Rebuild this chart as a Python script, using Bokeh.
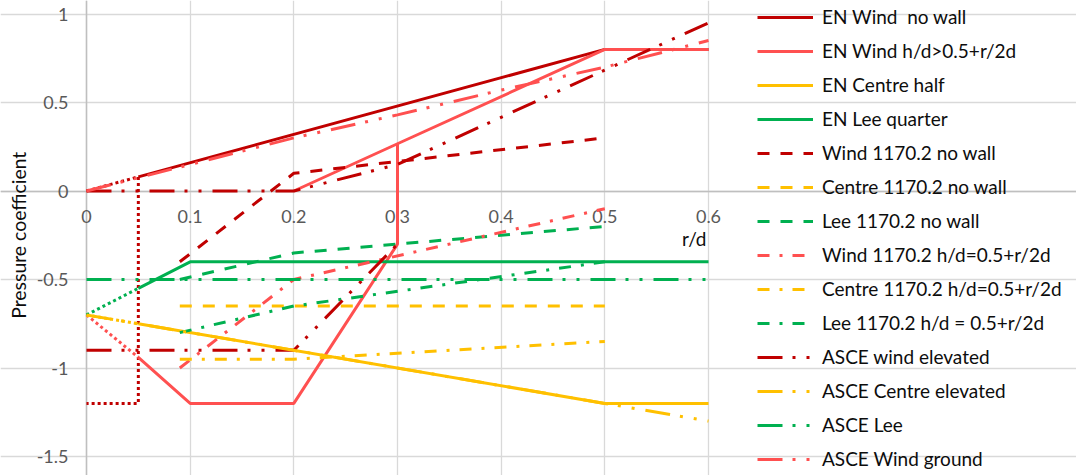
import math
from bokeh.plotting import figure
from bokeh.models import Legend, LegendItem, FixedTicker, Grid
from bokeh.core.properties import value
from bokeh.embed import file_html
from bokeh.resources import INLINE

nan = math.nan

# Axis ticks
x_ticks = [0, 0.1, 0.2, 0.3, 0.4, 0.5, 0.6]
x_tick_labels = ["0", "0.1", "0.2", "0.3", "0.4", "0.5", "0.6"]
y_ticks = [-1.5, -1, -0.5, 0, 0.5, 1]
y_tick_labels = ["-1.5", "-1", "-0.5", "0", "0.5", "1"]

# EN 1991 curves (r/d >= 0.05)
en_wind_x = [0.05, 0.5, 0.6]
en_wind_y = [0.08, 0.8, 0.8]
en_wind_hd_x = [0.05, 0.1, 0.2, 0.3, 0.3, 0.5, 0.6, nan, 0.2, 0.3]
en_wind_hd_y = [-0.94, -1.2, -1.2, -0.3, 0.267, 0.8, 0.8, nan, 0.0, 0.267]
en_centre_x = [0.05, 0.5, 0.6]
en_centre_y = [-0.75, -1.2, -1.2]
en_lee_x = [0.05, 0.1, 0.6]
en_lee_y = [-0.55, -0.4, -0.4]

# EN lead-in below r/d = 0.05
lead_wind_x = [0, 0.05, 0.05, 0]
lead_wind_y = [0, 0.08, -1.2, -1.2]
lead_wind_hd_x = [0, 0.05]
lead_wind_hd_y = [-0.7, -0.94]
lead_centre_x = [0, 0.05]
lead_centre_y = [-0.7, -0.75]
lead_lee_x = [0, 0.05]
lead_lee_y = [-0.7, -0.55]

# AS/NZS 1170.2, no wall
wind_1170_x = [0.09, 0.2, 0.5]
wind_1170_y = [-0.4, 0.1, 0.3]
centre_1170_x = [0.09, 0.5]
centre_1170_y = [-0.65, -0.65]
lee_1170_x = [0.09, 0.2, 0.3, 0.5]
lee_1170_y = [-0.5, -0.35, -0.3, -0.2]

# AS/NZS 1170.2, h/d = 0.5 + r/2d
wind_1170_hd_x = [0.09, 0.2, 0.5]
wind_1170_hd_y = [-1.0, -0.5, -0.1]
centre_1170_hd_x = [0.09, 0.2, 0.5]
centre_1170_hd_y = [-0.95, -0.95, -0.85]
lee_1170_hd_x = [0.09, 0.2, 0.5]
lee_1170_hd_y = [-0.8, -0.65, -0.4]

# ASCE 7 domes
asce_wind_elev_x = [0, 0.2, 0.3, nan, 0, 0.2, 0.3, 0.6]
asce_wind_elev_y = [-0.9, -0.9, -0.3, nan, 0, 0, 0.15, 0.95]
asce_centre_elev_x = [0, 0.5, 0.6]
asce_centre_elev_y = [-0.7, -1.2, -1.3]
asce_lee_x = [0, 0.6]
asce_lee_y = [-0.5, -0.5]
asce_wind_ground_x = [0, 0.1, 0.2, 0.3, 0.4, 0.5, 0.6]
asce_wind_ground_y = [0, 0.15, 0.3, 0.43, 0.57, 0.7, 0.85]

DARK_RED = "#C00000"
RED = "#FF5050"
YELLOW = "#FFC000"
GREEN = "#00B050"

SOLID = "solid"
DASH = "12 11"
DASH_DOT = "12 10 3 10"
LONG_DASH_DOT_DOT = "25 10 3 11 3 11"
DOT = "3 3"

FONT = "Lato"
W = 3

# page geometry (pixels) of the plotting area inside the canvas
WIDTH, HEIGHT = 1076, 475
AREA_LEFT, AREA_RIGHT = 86, 708
AREA_TOP, AREA_BOTTOM = 13.5, 456

x_lo, x_hi = x_ticks[0], x_ticks[-1]
y_lo, y_hi = y_ticks[0], y_ticks[-1]
sx = (AREA_RIGHT - AREA_LEFT) / (x_hi - x_lo)
sy = (AREA_BOTTOM - AREA_TOP) / (y_hi - y_lo)
x_range = (x_lo - AREA_LEFT / sx, x_hi + (WIDTH - AREA_RIGHT) / sx)
y_range = (y_lo - (HEIGHT - AREA_BOTTOM) / sy, y_hi + AREA_TOP / sy)

p = figure(width=WIDTH, height=HEIGHT, x_range=x_range, y_range=y_range,
           output_backend="svg", toolbar_location=None, title=None,
           x_axis_location=None, y_axis_location=None, min_border=0,
           outline_line_color=None)
p.background_fill_color = "white"
p.border_fill_color = "white"
for g in p.grid:
    g.visible = False

# gridlines confined to the plotting area
p.add_layout(Grid(dimension=0, ticker=FixedTicker(ticks=x_ticks), bounds=(y_lo, y_hi),
                  grid_line_color="#D9D9D9", grid_line_width=1.3))
p.add_layout(Grid(dimension=1, ticker=FixedTicker(ticks=y_ticks), bounds=(x_lo, x_hi),
                  grid_line_color="#D9D9D9", grid_line_width=1.3))
# axis lines through the origin
p.add_layout(Grid(dimension=0, ticker=FixedTicker(ticks=[0]), bounds=(y_lo, y_hi),
                  grid_line_color="#BFBFBF", grid_line_width=1.5))
p.add_layout(Grid(dimension=1, ticker=FixedTicker(ticks=[0]), bounds=(x_lo, x_hi),
                  grid_line_color="#BFBFBF", grid_line_width=1.5))

# tick labels and axis titles
p.text(x=x_ticks, y=[0] * len(x_ticks), text=x_tick_labels,
       text_align="center", text_baseline="middle", y_offset=25,
       text_font=value(FONT), text_font_size="18px", text_color="#595959")
p.text(x=[x_lo] * len(y_ticks), y=y_ticks, text=y_tick_labels,
       text_align="right", text_baseline="middle", x_offset=-18,
       text_font=value(FONT), text_font_size="18px", text_color="#595959")
p.text(x=[x_hi], y=[0], text=["r/d"], text_align="right",
       text_baseline="middle", y_offset=47, x_offset=-2,
       text_font=value(FONT), text_font_size="19px", text_color="#0d0d0d")
p.text(x=[x_lo], y=[(y_lo + y_hi) / 2], text=["Pressure coefficient"],
       angle=math.pi / 2, text_align="center", text_baseline="middle",
       x_offset=-68, text_font=value(FONT), text_font_size="19.4px",
       text_color="#0d0d0d")


def draw(xs, ys, color, dash):
    return p.line(xs, ys, line_color=color, line_width=W, line_dash=dash)


series = [
    ("EN Wind  no wall", [(en_wind_x, en_wind_y, DARK_RED, SOLID),
                          (lead_wind_x, lead_wind_y, DARK_RED, DOT)]),
    ("EN Wind h/d>0.5+r/2d", [(en_wind_hd_x, en_wind_hd_y, RED, SOLID),
                              (lead_wind_hd_x, lead_wind_hd_y, RED, DOT)]),
    ("EN Centre half", [(en_centre_x, en_centre_y, YELLOW, SOLID),
                        (lead_centre_x, lead_centre_y, YELLOW, DOT)]),
    ("EN Lee quarter", [(en_lee_x, en_lee_y, GREEN, SOLID),
                        (lead_lee_x, lead_lee_y, GREEN, DOT)]),
    ("Wind 1170.2 no wall", [(wind_1170_x, wind_1170_y, DARK_RED, DASH)]),
    ("Centre 1170.2 no wall", [(centre_1170_x, centre_1170_y, YELLOW, DASH)]),
    ("Lee 1170.2 no wall", [(lee_1170_x, lee_1170_y, GREEN, DASH)]),
    ("Wind 1170.2 h/d=0.5+r/2d", [(wind_1170_hd_x, wind_1170_hd_y, RED, DASH_DOT)]),
    ("Centre 1170.2 h/d=0.5+r/2d", [(centre_1170_hd_x, centre_1170_hd_y, YELLOW, DASH_DOT)]),
    ("Lee 1170.2 h/d = 0.5+r/2d", [(lee_1170_hd_x, lee_1170_hd_y, GREEN, DASH_DOT)]),
    ("ASCE wind elevated", [(asce_wind_elev_x, asce_wind_elev_y, DARK_RED, LONG_DASH_DOT_DOT)]),
    ("ASCE Centre elevated", [(asce_centre_elev_x, asce_centre_elev_y, YELLOW, LONG_DASH_DOT_DOT)]),
    ("ASCE Lee", [(asce_lee_x, asce_lee_y, GREEN, LONG_DASH_DOT_DOT)]),
    ("ASCE Wind ground", [(asce_wind_ground_x, asce_wind_ground_y, RED, LONG_DASH_DOT_DOT)]),
]

items = []
for label, parts in series:
    rs = [draw(*part) for part in parts]
    items.append(LegendItem(label=label, renderers=[rs[0]]))

# legend to the right of the plotting area; row pitch 34 px
LEGEND_X, LEGEND_BOTTOM = 757, 4.3
legend = Legend(items=items, location=(LEGEND_X, LEGEND_BOTTOM), orientation="vertical",
                glyph_width=56, glyph_height=24, label_height=24,
                label_standoff=9, spacing=10, padding=0, margin=0,
                border_line_alpha=0, background_fill_alpha=0,
                label_text_font=FONT, label_text_font_size="19px",
                label_text_color="#0d0d0d", label_text_baseline="middle")
p.add_layout(legend)

open("out.html", "w").write(file_html(p, INLINE))
